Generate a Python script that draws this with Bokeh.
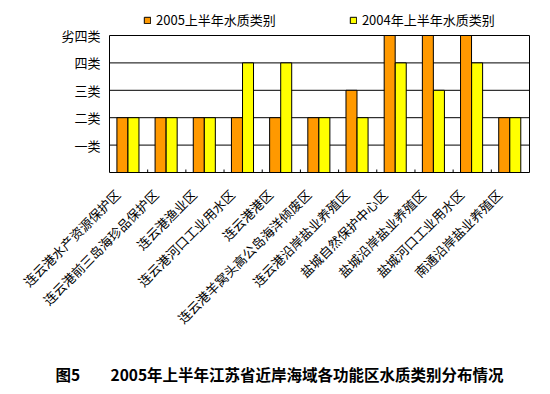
import math
from bokeh.plotting import figure
from bokeh.models import ColumnDataSource, Legend, LegendItem
from bokeh.core.properties import value
from bokeh.embed import file_html
from bokeh.resources import INLINE

categories = ["连云港水产资源保护区", "连云港前三岛海珍品保护区", "连云港渔业区",
              "连云港河口工业用水区", "连云港港区", "连云港羊窝头高公岛海洋倾废区",
              "连云港沿岸盐业养殖区", "盐城自然保护中心区", "盐城沿岸盐业养殖区",
              "盐城河口工业用水区", "南通沿岸盐业养殖区"]
values_2005 = [2, 2, 2, 2, 2, 2, 3, 5, 5, 5, 2]
values_2004 = [2, 2, 2, 4, 4, 2, 2, 4, 3, 4, 2]
level_ticks = [1, 2, 3, 4, 5]
level_labels = ["一类", "二类", "三类", "四类", "劣四类"]
series_names = ["2005上半年水质类别", "2004年上半年水质类别"]
title_prefix = "图5"
title_main = "2005年上半年江苏省近岸海域各功能区水质类别分布情况"

FONT = "Noto Sans CJK SC"
W, H = 550, 394
# plot frame placement (pixels on the canvas)
FL, FR, FT, FB = 109, 529, 35, 172
n = len(categories)
ymax = level_ticks[-1]
ux = (FR - FL) / n          # px per category
uy = (FB - FT) / ymax       # px per class

p = figure(width=W, height=H, output_backend="svg", toolbar_location=None,
           x_axis_location=None, y_axis_location=None,
           x_range=(-FL / ux, n + (W - FR) / ux),
           y_range=(-(H - FB) / uy, ymax + FT / uy),
           min_border=0, min_border_left=0, min_border_right=0,
           min_border_top=0, min_border_bottom=0,
           background_fill_color="white", border_fill_color="white")
p.outline_line_color = None
p.xgrid.visible = False
p.ygrid.visible = False

centers = [i + 0.5 for i in range(n)]
src = ColumnDataSource(dict(cat=categories, xc=centers,
                            x05=[c - 0.162 for c in centers],
                            x04=[c + 0.128 for c in centers],
                            v05=values_2005, v04=values_2004))

# horizontal grid lines at class levels (below top border)
gsrc = ColumnDataSource(dict(y=level_ticks[:-1]))
p.segment(x0=0, x1=n, y0="y", y1="y", source=gsrc, line_color="black", line_width=1)

r05 = p.vbar(x="x05", top="v05", width=0.288, source=src,
             fill_color="#FF9900", line_color="black", line_width=1)
r04 = p.vbar(x="x04", top="v04", width=0.288, source=src,
             fill_color="#FFFF00", line_color="black", line_width=1)

# plot area border
p.quad(left=[0], right=[n], bottom=[0], top=[ymax], fill_color=None,
       line_color="black", line_width=1)

# inward ticks at category boundaries
bsrc = ColumnDataSource(dict(x=list(range(1, n))))
p.segment(x0="x", x1="x", y0=0, y1=3 / uy, source=bsrc, line_color="black", line_width=1)

# category labels (rotated 45 degrees)
p.text(x="xc", y=0, text="cat", source=src, angle=math.pi / 4,
       text_align="right", text_baseline="middle", x_offset=-11, y_offset=19.5,
       text_font=value(FONT), text_font_size=value("13px"), text_color="black")

# class labels on the left
ysrc = ColumnDataSource(dict(y=level_ticks, t=level_labels))
p.text(x=0, y="y", text="t", source=ysrc, text_align="right", text_baseline="middle",
       x_offset=-9, text_font=value(FONT), text_font_size=value("13px"),
       text_color="black")

legend = Legend(items=[LegendItem(label=series_names[0], renderers=[r05]),
                       LegendItem(label=series_names[1], renderers=[r04])],
                orientation="horizontal", location=(143, H - 29),
                border_line_color=None, background_fill_alpha=0,
                glyph_width=8, glyph_height=8, label_height=13,
                label_standoff=5, spacing=73, padding=0, margin=0,
                label_text_font=FONT, label_text_font_size="13px",
                label_text_color="black")
p.add_layout(legend)

# caption below the chart
tsrc = ColumnDataSource(dict(x=[-(FL - 55) / ux, -(FL - 110) / ux],
                             t=[title_prefix, title_main]))
p.text(x="x", y=-(373 - FB) / uy, text="t", source=tsrc, text_align="left",
       text_baseline="middle", text_font=value(FONT), text_font_size=value("15.5px"),
       text_font_style="bold", text_color="black")

open("out.html", "w").write(file_html(p, INLINE))
